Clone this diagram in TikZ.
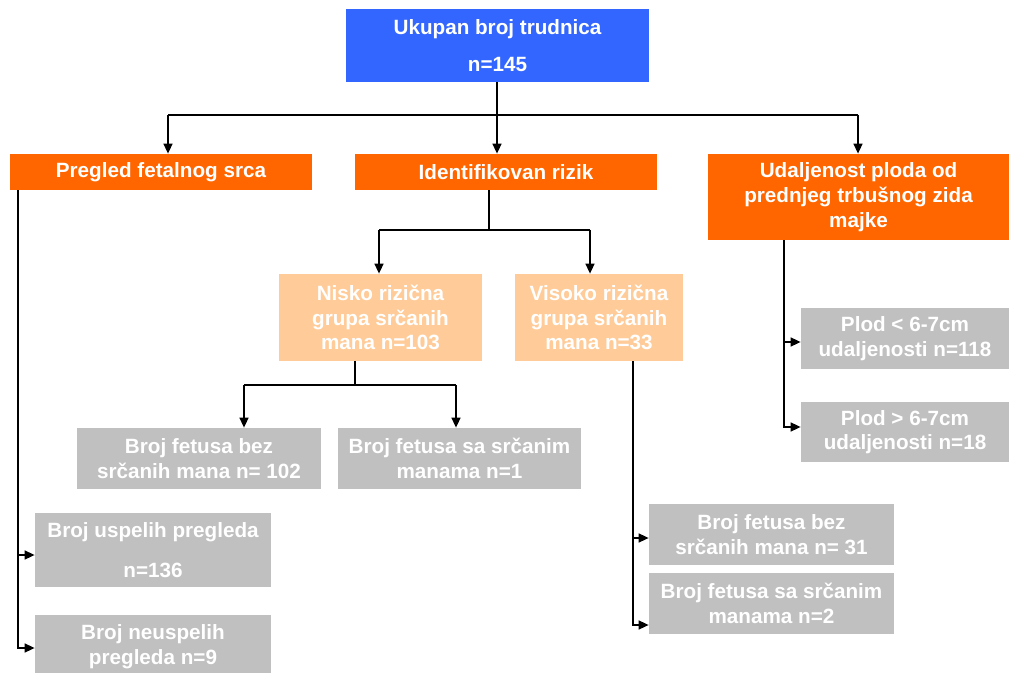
\documentclass[tikz,border=0pt]{standalone}
\usepackage{fontspec}
\setmainfont{Liberation Sans}
\usetikzlibrary{arrows.meta}
\definecolor{topblue}{HTML}{3366FF}
\definecolor{headorange}{HTML}{FF6600}
\definecolor{riskpeach}{HTML}{FFCC99}
\definecolor{leafgray}{HTML}{C0C0C0}
\tikzset{
  box/.style={text=white, font=\fontsize{15.5}{18.5}\selectfont\bfseries, align=center, inner sep=0pt},
  dims/.style 2 args={minimum width=#1*0.75pt, minimum height=#2*0.75pt},
  link/.style={line width=1.6pt},
  arr/.style={link, -{Triangle[length=7.5pt,width=6.5pt]}}
}
\begin{document}
\begin{tikzpicture}[x=0.75pt,y=-0.75pt]
        \useasboundingbox (0,0) rectangle (1009,673);
        \node[box,fill=topblue,dims={303}{73}] (total) at (497.5,45.5) {Ukupan broj trudnica\\[9pt]n=145};
        \node[box,fill=headorange,dims={302}{36}] (fetal) at (161,172) {Pregled fetalnog srca};
        \node[box,fill=headorange,dims={302}{36}] (risk) at (506,172) {Identifikovan rizik};
        \node[box,fill=headorange,dims={301}{86}] (dist) at (858.5,197) {Udaljenost ploda od\\prednjeg trbušnog zida\\majke};
        \node[box,fill=riskpeach,dims={203}{87}] (low) at (380.5,317.5) {Nisko rizična\\grupa srčanih\\mana n=103};
        \node[box,fill=riskpeach,dims={168}{87}] (high) at (599,317.5) {Visoko rizična\\grupa srčanih\\mana n=33};
        \node[box,fill=leafgray,dims={208}{61}] (near) at (905,338.5) {Plod < 6-7cm\\udaljenosti n=118};
        \node[box,fill=leafgray,dims={208}{60}] (far) at (905,432) {Plod > 6-7cm\\udaljenosti n=18};
        \node[box,fill=leafgray,dims={244}{61}] (lowok) at (199,458.5) {Broj fetusa bez\\srčanih mana n= 102};
        \node[box,fill=leafgray,dims={243}{61}] (lowdef) at (459.5,458.5) {Broj fetusa sa srčanim\\manama n=1};
        \node[box,fill=leafgray,dims={236}{74}] (done) at (153,550) {Broj uspelih pregleda\\[11.5pt]n=136};
        \node[box,fill=leafgray,dims={236}{63}] (failed) at (153,646.5) {Broj neuspelih\\pregleda n=9};
        \node[box,fill=leafgray,dims={245}{61}] (highok) at (771.5,534.5) {Broj fetusa bez\\srčanih mana n= 31};
        \node[box,fill=leafgray,dims={245}{61}] (highdef) at (771.5,603.5) {Broj fetusa sa srčanim\\manama n=2};

        \coordinate (busA) at (497,115);
        \coordinate (busAl) at (168,115);
        \coordinate (busAr) at (858,115);
        \draw[link] (total.south -| busA) -- (busA);
        \draw[link] (busAl) -- (busAr);
        \draw[arr] (busAl) -- (busAl |- fetal.north);
        \draw[arr] (busA) -- (busA |- risk.north);
        \draw[arr] (busAr) -- (busAr |- dist.north);

        \coordinate (busB) at (489,230);
        \coordinate (busBl) at (379,230);
        \coordinate (busBr) at (590,230);
        \draw[link] (risk.south -| busB) -- (busB);
        \draw[link] (busBl) -- (busBr);
        \draw[arr] (busBl) -- (busBl |- low.north);
        \draw[arr] (busBr) -- (busBr |- high.north);

        \coordinate (busC) at (355,385);
        \coordinate (busCl) at (244,385);
        \coordinate (busCr) at (456,385);
        \draw[link] (low.south -| busC) -- (busC);
        \draw[link] (busCl) -- (busCr);
        \draw[arr] (busCl) -- (busCl |- lowok.north);
        \draw[arr] (busCr) -- (busCr |- lowdef.north);

        \coordinate (spineA) at (18,555);
        \coordinate (spineB) at (18,648);
        \draw[arr] (spineA) -- (spineA -| done.west);
        \draw[arr] (fetal.south -| spineB) -- (spineB) -- (spineB -| failed.west);

        \coordinate (spineC) at (784,342);
        \coordinate (spineD) at (784,427);
        \draw[arr] (spineC) -- (spineC -| near.west);
        \draw[arr] (dist.south -| spineD) -- (spineD) -- (spineD -| far.west);

        \coordinate (spineE) at (633,538);
        \coordinate (spineF) at (633,625);
        \draw[arr] (spineE) -- (spineE -| highok.west);
        \draw[arr] (high.south -| spineF) -- (spineF) -- (spineF -| highdef.west);
\end{tikzpicture}
\end{document}
